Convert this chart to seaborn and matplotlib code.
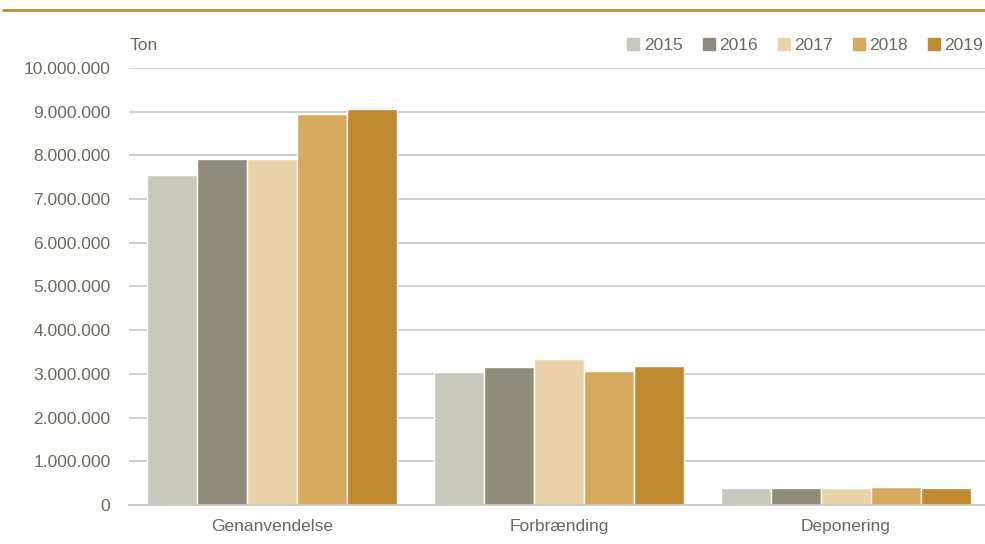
import matplotlib
matplotlib.use("Agg")
import matplotlib.pyplot as plt
import pandas as pd
import seaborn as sns
from matplotlib.lines import Line2D
from matplotlib.ticker import FuncFormatter

# Data (tons)
categories = ["Genanvendelse", "Forbrænding", "Deponering"]
years = ["2015", "2016", "2017", "2018", "2019"]
values_2015 = [7550000, 3040000, 400000]
values_2016 = [7920000, 3160000, 385000]
values_2017 = [7910000, 3340000, 395000]
values_2018 = [8950000, 3070000, 410000]
values_2019 = [9060000, 3180000, 395000]
colors = ["#C8C8BC", "#8F8C7C", "#EBD3A9", "#D7AB5E", "#C08A30"]

text_col = "#6B6A5C"
grid_col = "#C9C8BD"

# --------------------------------------------------
rows = []
for yr, vals in zip(years, [values_2015, values_2016, values_2017, values_2018, values_2019]):
    for cat, v in zip(categories, vals):
        rows.append({"kategori": cat, "aar": yr, "ton": v})
df = pd.DataFrame(rows)
# --------------------------------------------------

sns.set_theme(style="white")
plt.rcParams["font.family"] = ["Liberation Sans Narrow", "Liberation Sans", "DejaVu Sans"]

fig = plt.figure(figsize=(9.85, 5.44), dpi=100)
ax = fig.add_axes([0.1305, 0.0717, 0.874, 0.8033])

sns.barplot(data=df, x="kategori", y="ton", hue="aar", order=categories, hue_order=years,
            palette=colors, width=0.87, edgecolor="white", linewidth=1.0, saturation=1,
            legend=False, ax=ax)

ax.set_ylim(0, 10000000)
ax.set_yticks(range(0, 10000001, 1000000))
ax.yaxis.set_major_formatter(FuncFormatter(lambda y, _: "{:,.0f}".format(y).replace(",", ".")))
ax.grid(axis="y", color=grid_col, linewidth=1.2)
ax.set_axisbelow(True)
for s in ["top", "right", "left"]:
    ax.spines[s].set_visible(False)
ax.spines["bottom"].set_color(grid_col)
ax.spines["bottom"].set_linewidth(1.2)
ax.set_xlabel("")
ax.set_ylabel("")
ax.tick_params(axis="both", length=0, labelsize=12.5, colors=text_col)
ax.tick_params(axis="y", pad=13)
ax.tick_params(axis="x", pad=10)

fig.text(0.132, 0.917, "Ton", fontsize=12.5, color=text_col, va="center", ha="left")

handles = [Line2D([0], [0], marker="s", linestyle="", markersize=8, markerfacecolor=c,
                  markeredgecolor=c) for c in colors]
fig.legend(handles, years, loc="center right", bbox_to_anchor=(0.998, 0.917), ncol=5,
           frameon=False, fontsize=12.5, labelcolor=text_col, handletextpad=0.1,
           columnspacing=1.0, handlelength=1.0, borderaxespad=0.0, borderpad=0.0)

# top rule
fig.add_artist(Line2D([0.003, 1.0], [0.981, 0.981], color="#C08A30", linewidth=2.0,
                      transform=fig.transFigure))

fig.savefig("out.png", dpi=100)
